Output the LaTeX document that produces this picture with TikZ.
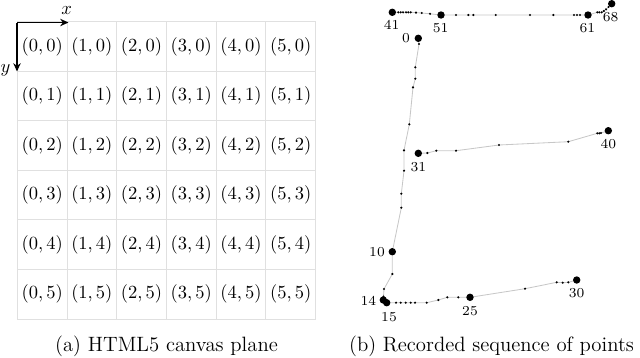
\documentclass[tikz,border=0pt]{standalone}
\usetikzlibrary{arrows.meta}
\begin{document}
\begin{tikzpicture}[x=0.54pt,y=-0.54pt,
  gridline/.style={draw=black!12,line width=0.5pt},
  cell/.style={font=\fontsize{10}{12}\selectfont,inner sep=0pt},
  axisarrow/.style={line width=0.8pt,-{Stealth[length=4.5pt,width=4pt]}},
  axislabel/.style={font=\fontsize{10}{12}\selectfont,inner sep=0pt},
  caption/.style={font=\fontsize{11.2}{13}\selectfont,anchor=base,inner sep=0pt},
  strokeline/.style={draw=black!22,line width=0.45pt},
  ptlabel/.style={font=\fontsize{7.4}{8}\selectfont,inner sep=0pt}]
\useasboundingbox (0,0) rectangle (640,357);
% grid
\foreach \i in {0,...,6}{
  \draw[gridline] ({17.3+49.7*\i},21.7) -- ({17.3+49.7*\i},319);
  \draw[gridline] (17.3,{21.7+49.55*\i}) -- (315.5,{21.7+49.55*\i});
}
\foreach \c in {0,...,5}{
  \foreach \r in {0,...,5}{
    \node[cell] (c\c\r) at ({17.3+49.7*\c+24.85},{21.7+49.55*\r+24.8}) {$(\c,\r)$};
  }
}
% axes
\coordinate (o) at (17,22.5);
\coordinate (xe) at (68.5,22.5);
\coordinate (ye) at (17,71.5);
\draw[axisarrow] (o) -- (xe);
\draw[axisarrow] (o) -- (ye);
\node[axislabel] (xl) at (66.7,10.5) {$x$};
\node[axislabel] (yl) at (5.5,70) {$y$};
% points
\foreach \i/\x/\y in {
 0/418.3/38.3, 1/419/44, 2/415.3/67.3, 3/415.3/78.7, 4/413/87.3, 5/409.3/124.3,
 6/404/150.3, 7/404/170.7, 8/401.3/193.7, 9/401.3/207.7, 10/392.3/251.7,
 11/392.3/274, 12/384/289, 13/383.5/296.5, 14/383.3/300, 15/386.7/302.7,
 16/396/302.7, 17/400.7/302.7, 18/405.7/302.7, 19/410.7/302.7, 20/415/302.7,
 21/426.7/302.7, 22/438.3/300, 23/447.3/297.3, 24/458.3/297.3, 25/470/297.3,
 26/525/288.7, 27/556.7/282.3, 28/562.7/282.7, 29/568.3/282.3, 30/576.7/280,
 31/418.3/153.3, 32/427.3/153, 33/436.3/150.7, 34/456/150.7, 35/499/145,
 36/568.3/141.7, 37/597.3/133.3, 38/599.3/133.3, 39/601/133, 40/608.3/130.7,
 41/392.3/12.3, 42/398.3/12.3, 43/400.7/12.3, 44/403/12.3, 45/406/12.3,
 46/408.3/12.3, 47/410.7/12.3, 48/416/12.6, 49/421.7/13, 50/430/13.8,
 51/441/15, 52/456/15, 53/468.3/15, 54/473.3/15, 55/495.7/15, 56/530/15,
 57/553.3/15, 58/574/15, 59/577/15, 60/580/15, 61/588/15,
 62/597.3/12.3, 63/599.3/12.3, 64/601.7/12.3, 65/603.8/11, 66/606/9.3,
 67/608.5/7, 68/611.7/3.7}{
  \coordinate (p\i) at (\x,\y);
}
\draw[strokeline] (p0) \foreach \i in {1,...,30}{ -- (p\i)};
\draw[strokeline] (p31) \foreach \i in {32,...,40}{ -- (p\i)};
\draw[strokeline] (p41) \foreach \i in {42,...,68}{ -- (p\i)};
\foreach \i in {1,...,9,11,12,13,16,17,18,19,20,21,22,23,24,26,27,28,29,32,33,34,35,36,37,38,39,42,43,44,45,46,47,48,49,50,52,53,54,55,56,57,58,59,60,62,63,64,65,66,67}{
  \fill (p\i) circle (0.65pt);
}
\foreach \i in {0,10,14,15,25,30,31,40,41,51,61,68}{
  \fill (p\i) circle (2pt);
}
% point labels
\node[ptlabel] (l41) at (391.7,25) {41};
\node[ptlabel] (l51) at (440.7,28.3) {51};
\node[ptlabel] (l61) at (587.3,28.3) {61};
\node[ptlabel] (l68) at (610.7,16.7) {68};
\node[ptlabel] (l0) at (406,38.3) {0};
\node[ptlabel] (l31) at (418.3,167.3) {31};
\node[ptlabel] (l40) at (608.3,144) {40};
\node[ptlabel] (l10) at (377,252.3) {10};
\node[ptlabel] (l14) at (368.3,301) {14};
\node[ptlabel] (l15) at (389,317.3) {15};
\node[ptlabel] (l25) at (470,310.7) {25};
\node[ptlabel] (l30) at (576.7,293.3) {30};
% captions
\node[caption] (capa) at (166.5,351) {(a) HTML5 canvas plane};
\node[caption] (capb) at (491.5,351) {(b) Recorded sequence of points};
\end{tikzpicture}
\end{document}
